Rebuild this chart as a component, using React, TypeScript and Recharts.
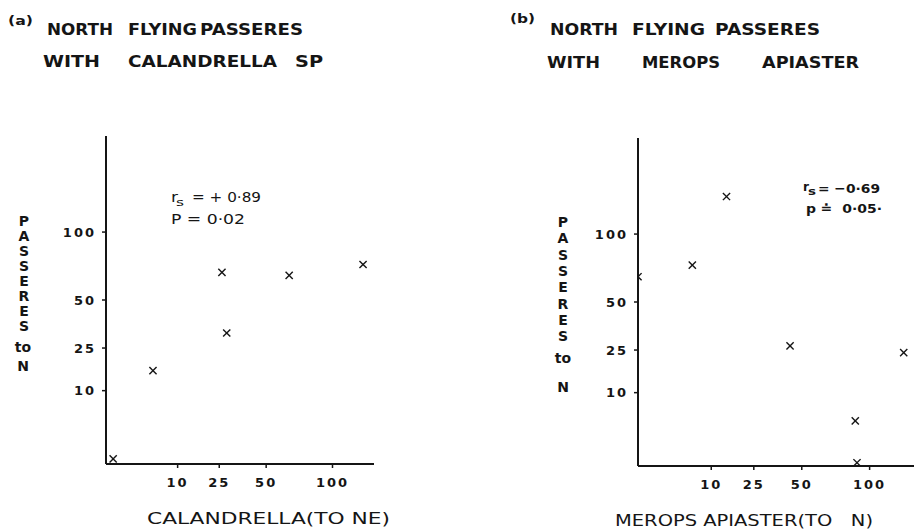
import { ScatterChart, Scatter, XAxis, YAxis } from "recharts"

// shared tick values (both axes use a square-root scale)
const scaleTicks = [10, 25, 50, 100]

// (a) passeres vs Calandrella sp.
const calandrellaCounts = [0.1, 4.3, 26.2, 28.4, 65.4, 128.8]
const passeresWithCalandrella = [0.05, 16.2, 68.2, 31.9, 66.1, 74]

// (b) passeres vs Merops apiaster
const meropsCounts = [0, 5.5, 14.6, 43.1, 88, 89.4, 131.6]
const passeresWithMerops = [66.6, 75, 135, 26.8, 3.8, 0.02, 23.9]

const INK = "#151515"
const FONT = "'DejaVu Sans', sans-serif"

const tickStyle = { fontSize: 13, fontWeight: 700, fill: INK, fontFamily: FONT, letterSpacing: 2 }

const Cross = (props: any) => {
  const { cx, cy } = props
  if (cx == null || cy == null) return null
  const s = 3.6
  return (
    <g>
      <line x1={cx - s} y1={cy - s} x2={cx + s} y2={cy + s} stroke={INK} strokeWidth={1.4} />
      <line x1={cx - s} y1={cy + s} x2={cx + s} y2={cy - s} stroke={INK} strokeWidth={1.4} />
    </g>
  )
}

function Panel({
  xs,
  ys,
  xMax,
  margin,
}: {
  xs: number[]
  ys: number[]
  xMax: number
  margin: { top: number; right: number; bottom: number; left: number }
}) {
  const data = xs.map((x, i) => ({ x, y: ys[i] }))
  return (
    <ScatterChart width={457} height={530} margin={margin}>
      <XAxis
        type="number"
        dataKey="x"
        scale="sqrt"
        domain={[0, xMax]}
        ticks={scaleTicks}
        allowDataOverflow
        axisLine={{ stroke: INK, strokeWidth: 2 }}
        tickLine={{ stroke: INK, strokeWidth: 1.5 }}
        tickSize={4}
        tickMargin={10}
        tick={tickStyle}
        height={30}
      />
      <YAxis
        type="number"
        dataKey="y"
        scale="sqrt"
        domain={[0, 200]}
        ticks={scaleTicks}
        allowDataOverflow
        axisLine={{ stroke: INK, strokeWidth: 2 }}
        tickLine={{ stroke: INK, strokeWidth: 1.5 }}
        tickSize={4}
        tickMargin={6}
        tick={tickStyle}
        width={56}
      />
      <Scatter data={data} shape={<Cross />} isAnimationActive={false} />
    </ScatterChart>
  )
}

// word by word so each one keeps its place on the page
function Word({ x1, x2, y, size, text, weight = 700 }: { x1: number; x2: number; y: number; size: number; text: string; weight?: number }) {
  return (
    <text x={x1} y={y} textLength={x2 - x1} lengthAdjust="spacingAndGlyphs" fontSize={size} fontWeight={weight} fontFamily={FONT} fill={INK}>
      {text}
    </text>
  )
}

function Stack({ x, y0, step, letters, size }: { x: number; y0: number; step: number; letters: string[]; size: number }) {
  return (
    <>
      {letters.map((l, i) => (
        <text key={i} x={x} y={y0 + i * step} textAnchor="middle" dominantBaseline="central" fontSize={size} fontWeight={700} fontFamily={FONT} fill={INK}>
          {l}
        </text>
      ))}
    </>
  )
}

const passeresLetters = ["P", "A", "S", "S", "E", "R", "E", "S"]

export default function App() {
  return (
    <div style={{ position: "absolute", left: 0, top: 0, width: 914, height: 530, background: "#fff", overflow: "hidden" }}>
      <div style={{ position: "absolute", left: 0, top: 0 }}>
        <Panel xs={calandrellaCounts} ys={passeresWithCalandrella} xMax={140} margin={{ top: 136, right: 83, bottom: 36, left: 50 }} />
      </div>
      <div style={{ position: "absolute", left: 457, top: 0 }}>
        <Panel xs={meropsCounts} ys={passeresWithMerops} xMax={142} margin={{ top: 138, right: 0, bottom: 34, left: 125 }} />
      </div>
      <svg width={914} height={530} style={{ position: "absolute", left: 0, top: 0, pointerEvents: "none" }}>
        {/* panel (a) */}
        <Word x1={8} x2={33} y={25} size={12} text="(a)" />
        <Word x1={47} x2={113} y={35} size={16} text="NORTH" />
        <Word x1={128} x2={197} y={35} size={16} text="FLYING" />
        <Word x1={200} x2={303} y={35} size={16} text="PASSERES" />
        <Word x1={43} x2={100} y={67} size={16} text="WITH" />
        <Word x1={128} x2={277} y={67} size={16} text="CALANDRELLA" />
        <Word x1={295} x2={323} y={67} size={16} text="SP" />
        <Stack x={24} y0={221} step={15} letters={passeresLetters} size={14} />
        <Stack x={23} y0={347} step={19} letters={["to", "N"]} size={14} />
        <Word x1={171} x2={178} y={202} size={14} text="r" weight={400} />
        <Word x1={176} x2={184} y={206} size={10} text="s" weight={400} />
        <Word x1={192} x2={261} y={202} size={14} text={"= + 0·89"} weight={400} />
        <Word x1={171} x2={245} y={224} size={14} text={"P = 0·02"} weight={400} />
        <Word x1={147} x2={390} y={524} size={16} text="CALANDRELLA(TO NE)" weight={400} />

        {/* panel (b) */}
        <Word x1={510} x2={535} y={23} size={12} text="(b)" />
        <Word x1={550} x2={618} y={35} size={16} text="NORTH" />
        <Word x1={632} x2={705} y={35} size={16} text="FLYING" />
        <Word x1={715} x2={820} y={35} size={16} text="PASSERES" />
        <Word x1={547} x2={600} y={68} size={16} text="WITH" />
        <Word x1={642} x2={720} y={68} size={16} text="MEROPS" />
        <Word x1={762} x2={859} y={68} size={16} text="APIASTER" />
        <Stack x={563} y0={222} step={16.3} letters={passeresLetters} size={14} />
        <Stack x={563} y0={358} step={29} letters={["to", "N"]} size={14} />
        <Word x1={803} x2={809} y={191} size={13} text="r" />
        <Word x1={808} x2={816} y={195} size={10} text="s" />
        <Word x1={818} x2={880} y={193} size={13} text={"= −0·69"} />
        <Word x1={806} x2={882} y={213} size={13} text={"p ≐\u00a0\u00a00·05·"} />
        <Word x1={615} x2={873} y={526} size={15} text={"MEROPS APIASTER(TO\u00a0\u00a0\u00a0N)"} weight={400} />
      </svg>
    </div>
  )
}
